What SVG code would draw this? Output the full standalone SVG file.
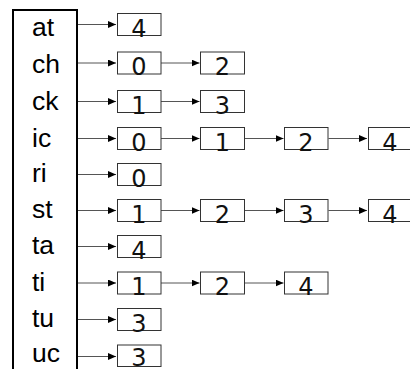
<svg xmlns="http://www.w3.org/2000/svg" width="410" height="369" viewBox="0 0 410 369">
  <style>
    .key { font-family: "Liberation Sans", Arial, sans-serif; font-size: 26.5px; fill: #000; }
    .cell rect { fill: #fff; stroke: #333; stroke-width: 1; }
    .cell text { font-family: "DejaVu Sans", Verdana, sans-serif; font-size: 24px; fill: #111; text-anchor: middle; }
    .link { stroke: #555; stroke-width: 1; fill: none; marker-end: url(#head); }
  </style>
  <defs>
    <marker id="head" markerUnits="userSpaceOnUse" markerWidth="9" markerHeight="7" refX="8" refY="3.5" orient="auto">
      <path d="M0,0 L8,3.5 L0,7 z" fill="#000"/>
    </marker>
  </defs>
  <rect width="410" height="369" fill="#fff"/>

  <!-- index table of keys -->
  <g id="index">
    <path d="M13,372 V10 H77 V372" fill="none" stroke="#000" stroke-width="2"/>
    <text class="key" x="32" y="36">at</text>
    <text class="key" x="32" y="73">ch</text>
    <text class="key" x="32" y="110">ck</text>
    <text class="key" x="32" y="147">ic</text>
    <text class="key" x="32" y="182">ri</text>
    <text class="key" x="32" y="218">st</text>
    <text class="key" x="32" y="254">ta</text>
    <text class="key" x="32" y="291">ti</text>
    <text class="key" x="32" y="327">tu</text>
    <text class="key" x="32" y="362">uc</text>
  </g>

  <!-- connectors -->
  <g id="connectors">
    <!-- at -->
    <line class="link" x1="78" y1="24.5" x2="116" y2="24.5"/>
    <!-- ch -->
    <line class="link" x1="78" y1="63" x2="116" y2="63"/>
    <line class="link" x1="161" y1="63" x2="199.5" y2="63"/>
    <!-- ck -->
    <line class="link" x1="78" y1="101.5" x2="116" y2="101.5"/>
    <line class="link" x1="161" y1="101.5" x2="199.5" y2="101.5"/>
    <!-- ic -->
    <line class="link" x1="78" y1="138.5" x2="116" y2="138.5"/>
    <line class="link" x1="161" y1="138.5" x2="199.5" y2="138.5"/>
    <line class="link" x1="245" y1="138.5" x2="283.5" y2="138.5"/>
    <line class="link" x1="328.5" y1="138.5" x2="367" y2="138.5"/>
    <!-- ri -->
    <line class="link" x1="78" y1="174.5" x2="116" y2="174.5"/>
    <!-- st -->
    <line class="link" x1="78" y1="210.5" x2="116" y2="210.5"/>
    <line class="link" x1="161" y1="210.5" x2="199.5" y2="210.5"/>
    <line class="link" x1="245" y1="210.5" x2="283.5" y2="210.5"/>
    <line class="link" x1="328.5" y1="210.5" x2="367" y2="210.5"/>
    <!-- ta -->
    <line class="link" x1="78" y1="246.5" x2="116" y2="246.5"/>
    <!-- ti -->
    <line class="link" x1="78" y1="283" x2="116" y2="283"/>
    <line class="link" x1="161" y1="283" x2="199.5" y2="283"/>
    <line class="link" x1="245" y1="283" x2="283.5" y2="283"/>
    <!-- tu -->
    <line class="link" x1="78" y1="319.5" x2="116" y2="319.5"/>
    <!-- uc -->
    <line class="link" x1="78" y1="356.5" x2="116" y2="356.5"/>
  </g>

  <!-- list cells -->
  <g id="at-1" class="cell"><rect x="117.5" y="13.5" width="43.5" height="22"/><text x="139" y="36.5">4</text></g>

  <g id="ch-1" class="cell"><rect x="117.5" y="52" width="43.5" height="22"/><text x="139" y="75">0</text></g>
  <g id="ch-2" class="cell"><rect x="200.5" y="52" width="44" height="22"/><text x="222.5" y="75">2</text></g>

  <g id="ck-1" class="cell"><rect x="117.5" y="90.5" width="43.5" height="22"/><text x="139" y="113.5">1</text></g>
  <g id="ck-2" class="cell"><rect x="200.5" y="90.5" width="44" height="22"/><text x="222.5" y="113.5">3</text></g>

  <g id="ic-1" class="cell"><rect x="117.5" y="127.5" width="43.5" height="22"/><text x="139" y="150.5">0</text></g>
  <g id="ic-2" class="cell"><rect x="200.5" y="127.5" width="44" height="22"/><text x="222.5" y="150.5">1</text></g>
  <g id="ic-3" class="cell"><rect x="284.5" y="127.5" width="43.5" height="22"/><text x="306" y="150.5">2</text></g>
  <g id="ic-4" class="cell"><rect x="368.5" y="127.5" width="43.5" height="22"/><text x="390" y="150.5">4</text></g>

  <g id="ri-1" class="cell"><rect x="117.5" y="163.5" width="43.5" height="22"/><text x="139" y="186.5">0</text></g>

  <g id="st-1" class="cell"><rect x="117.5" y="199.5" width="43.5" height="22"/><text x="139" y="222.5">1</text></g>
  <g id="st-2" class="cell"><rect x="200.5" y="199.5" width="44" height="22"/><text x="222.5" y="222.5">2</text></g>
  <g id="st-3" class="cell"><rect x="284.5" y="199.5" width="43.5" height="22"/><text x="306" y="222.5">3</text></g>
  <g id="st-4" class="cell"><rect x="368.5" y="199.5" width="43.5" height="22"/><text x="390" y="222.5">4</text></g>

  <g id="ta-1" class="cell"><rect x="117.5" y="235.5" width="43.5" height="22"/><text x="139" y="258.5">4</text></g>

  <g id="ti-1" class="cell"><rect x="117.5" y="272" width="43.5" height="22"/><text x="139" y="295">1</text></g>
  <g id="ti-2" class="cell"><rect x="200.5" y="272" width="44" height="22"/><text x="222.5" y="295">2</text></g>
  <g id="ti-3" class="cell"><rect x="284.5" y="272" width="43.5" height="22"/><text x="306" y="295">4</text></g>

  <g id="tu-1" class="cell"><rect x="117.5" y="308.5" width="43.5" height="22"/><text x="139" y="331.5">3</text></g>

  <g id="uc-1" class="cell"><rect x="117.5" y="345" width="43.5" height="21.5"/><text x="139" y="365.5">3</text></g>
</svg>
